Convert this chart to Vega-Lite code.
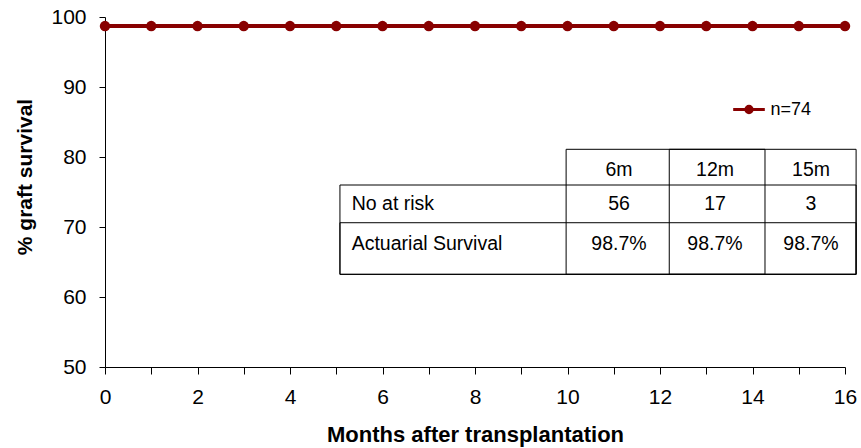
{
  "$schema": "https://vega.github.io/schema/vega-lite/v6.json",
  "width": 740,
  "height": 350,
  "autosize": {"type": "none"},
  "padding": {"left": 105, "top": 17, "right": 16, "bottom": 81},
  "background": "white",
  "config": {"view": {"stroke": null}, "font": "Liberation Sans"},
  "layer": [
    {
      "data": {
        "values": [
          {"month": 0, "survival": 98.7, "series": "n=74"},
          {"month": 1, "survival": 98.7, "series": "n=74"},
          {"month": 2, "survival": 98.7, "series": "n=74"},
          {"month": 3, "survival": 98.7, "series": "n=74"},
          {"month": 4, "survival": 98.7, "series": "n=74"},
          {"month": 5, "survival": 98.7, "series": "n=74"},
          {"month": 6, "survival": 98.7, "series": "n=74"},
          {"month": 7, "survival": 98.7, "series": "n=74"},
          {"month": 8, "survival": 98.7, "series": "n=74"},
          {"month": 9, "survival": 98.7, "series": "n=74"},
          {"month": 10, "survival": 98.7, "series": "n=74"},
          {"month": 11, "survival": 98.7, "series": "n=74"},
          {"month": 12, "survival": 98.7, "series": "n=74"},
          {"month": 13, "survival": 98.7, "series": "n=74"},
          {"month": 14, "survival": 98.7, "series": "n=74"},
          {"month": 15, "survival": 98.7, "series": "n=74"},
          {"month": 16, "survival": 98.7, "series": "n=74"}
        ]
      },
      "layer": [
        {
          "data": {"values": [{}]},
          "mark": {"type": "rect", "fillOpacity": 0, "stroke": "black", "strokeWidth": 1},
          "encoding": {
            "x": {"datum": 5.08, "type": "quantitative"},
            "x2": {"datum": 16.24},
            "y": {"datum": 63.24, "type": "quantitative"},
            "y2": {"datum": 76.0}
          }
        },
        {
          "data": {"values": [{}]},
          "mark": {"type": "rect", "fillOpacity": 0, "stroke": "black", "strokeWidth": 1},
          "encoding": {
            "x": {"datum": 9.97, "type": "quantitative"},
            "x2": {"datum": 16.24},
            "y": {"datum": 63.24, "type": "quantitative"},
            "y2": {"datum": 81.1}
          }
        },
        {
          "data": {"values": [{}]},
          "mark": {"type": "rect", "fillOpacity": 0, "stroke": "black", "strokeWidth": 1},
          "encoding": {
            "x": {"datum": 12.2, "type": "quantitative"},
            "x2": {"datum": 14.27},
            "y": {"datum": 63.24, "type": "quantitative"},
            "y2": {"datum": 81.1}
          }
        },
        {
          "data": {"values": [{}]},
          "mark": {"type": "rect", "fillOpacity": 0, "stroke": "black", "strokeWidth": 1},
          "encoding": {
            "x": {"datum": 5.08, "type": "quantitative"},
            "x2": {"datum": 16.24},
            "y": {"datum": 63.24, "type": "quantitative"},
            "y2": {"datum": 70.61}
          }
        },
        {
          "mark": {"type": "line", "strokeWidth": 4},
          "encoding": {
            "x": {
              "field": "month",
              "type": "quantitative",
              "scale": {"domain": [0, 16], "nice": false, "zero": false},
              "axis": {
                "title": "Months after transplantation",
                "values": [0, 1, 2, 3, 4, 5, 6, 7, 8, 9, 10, 11, 12, 13, 14, 15, 16],
                "labelExpr": "datum.value % 2 === 0 ? datum.label : ''",
                "grid": false,
                "domainColor": "black",
                "tickColor": "black",
                "tickSize": 7,
                "labelPadding": 12,
                "labelFont": "Liberation Sans",
                "labelFontSize": 21,
                "labelColor": "black",
                "labelFlush": false,
                "labelOverlap": false,
                "titleFont": "Liberation Sans",
                "titleFontSize": 22,
                "titleFontWeight": "bold",
                "titleColor": "black",
                "titleX": 370,
                "titleY": 74,
                "titleBaseline": "alphabetic"
              }
            },
            "y": {
              "field": "survival",
              "type": "quantitative",
              "scale": {"domain": [50, 100], "nice": false, "zero": false},
              "axis": {
                "title": "% graft survival",
                "values": [50, 60, 70, 80, 90, 100],
                "grid": false,
                "domainColor": "black",
                "tickColor": "black",
                "tickSize": 6,
                "labelPadding": 13,
                "labelFont": "Liberation Sans",
                "labelFontSize": 21,
                "labelColor": "black",
                "labelFlush": false,
                "titleFont": "Liberation Sans",
                "titleFontSize": 21,
                "titleFontWeight": "bold",
                "titleColor": "black",
                "titleAngle": -90,
                "titleX": -80,
                "titleY": 159.5,
                "titleAlign": "center",
                "titleBaseline": "middle"
              }
            },
            "color": {
              "field": "series",
              "type": "nominal",
              "scale": {"range": ["#880000"]},
              "legend": {
                "orient": "none",
                "legendX": 626.5,
                "legendY": 75,
                "title": null,
                "padding": 0,
                "labelFont": "Liberation Sans",
                "labelFontSize": 18,
                "labelColor": "black",
                "labelOffset": 4,
                "symbolSize": 1000,
                "symbolType": "M-1,0H1M0.2,0A0.2,0.2,0,1,1,-0.2,0A0.2,0.2,0,1,1,0.2,0Z",
                "encode": {
                  "symbols": {
                    "update": {
                      "fill": {"value": "#880000"},
                      "stroke": {"value": "#880000"},
                      "strokeWidth": {"value": 3},
                      "opacity": {"value": 1},
                      "fillOpacity": {"value": 1}
                    }
                  }
                }
              }
            }
          }
        },
        {
          "mark": {"type": "point", "filled": true, "size": 110, "opacity": 1, "color": "#880000"},
          "encoding": {
            "x": {"field": "month", "type": "quantitative"},
            "y": {"field": "survival", "type": "quantitative"}
          }
        }
      ]
    },
    {
      "data": {
        "values": [
          {"row": "No at risk", "col": "6m", "text": "56"},
          {"row": "No at risk", "col": "12m", "text": "17"},
          {"row": "No at risk", "col": "15m", "text": "3"},
          {"row": "Actuarial Survival", "col": "6m", "text": "98.7%"},
          {"row": "Actuarial Survival", "col": "12m", "text": "98.7%"},
          {"row": "Actuarial Survival", "col": "15m", "text": "98.7%"}
        ]
      },
      "encoding": {
        "x": {
          "field": "col",
          "type": "nominal",
          "scale": {"type": "point", "domain": ["label", "6m", "12m", "15m"], "range": [418, 706], "padding": 0},
          "axis": null
        },
        "y": {
          "field": "row",
          "type": "nominal",
          "scale": {"type": "point", "domain": ["header", "No at risk", "Actuarial Survival"], "range": [153.5, 232.5], "padding": 0},
          "axis": null
        }
      },
      "layer": [
        {
          "mark": {"type": "text", "font": "Liberation Sans", "fontSize": 19.5, "align": "center", "baseline": "alphabetic", "color": "black"},
          "encoding": {"text": {"field": "text"}}
        },
        {
          "transform": [{"filter": "datum.row === 'No at risk'"}],
          "mark": {"type": "text", "font": "Liberation Sans", "fontSize": 19.5, "align": "center", "baseline": "alphabetic", "color": "black", "dy": 5.5},
          "encoding": {
            "y": {"datum": "header", "type": "nominal"},
            "text": {"field": "col"}
          }
        },
        {
          "transform": [{"filter": "datum.col === '6m'"}],
          "mark": {"type": "text", "font": "Liberation Sans", "fontSize": 19.5, "align": "left", "baseline": "alphabetic", "color": "black", "dx": -171.3},
          "encoding": {
            "x": {"datum": "label", "type": "nominal"},
            "text": {"field": "row"}
          }
        }
      ]
    }
  ],
  "resolve": {"scale": {"x": "independent", "y": "independent"}}
}
